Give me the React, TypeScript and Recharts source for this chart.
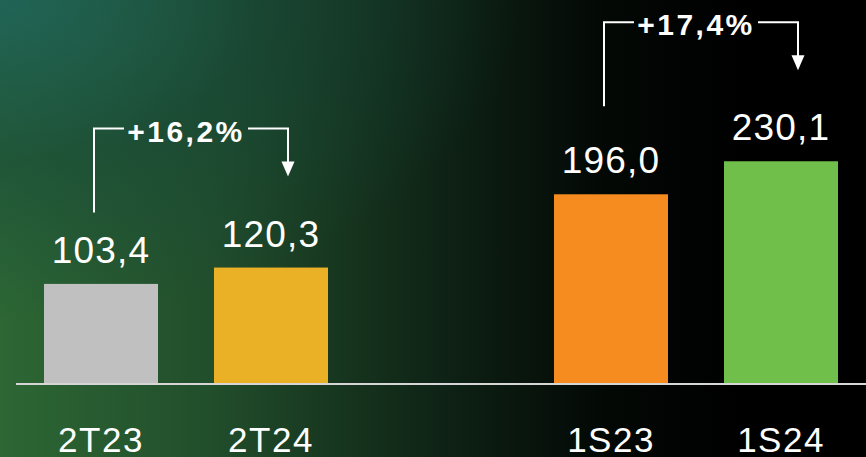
import React from "react";
import { BarChart, Bar, XAxis, YAxis } from "recharts";

const categories = ["2T23", "2T24", "", "1S23", "1S24"];
const values: (number | null)[] = [103.4, 120.3, null, 196.0, 230.1];
const barColors = ["#c0c0c0", "#eab126", "transparent", "#f68b20", "#70bf4b"];
const growthLabels = ["+16,2%", "+17,4%"];
const pairStarts = [0, 3];

const W = 866;
const H = 457;
const MARGIN = { top: 142, right: 0, bottom: 43, left: 16 };
const STEP = (W - MARGIN.left - MARGIN.right) / categories.length;
const FONT = "'Liberation Sans', Arial, sans-serif";

const data = categories.map((name, i) => ({ name, value: values[i] }));

const fmt = (v: number) => v.toFixed(1).replace(".", ",");

function BarShape(props: any) {
  const { x, y, width, height, payload } = props;
  // null entries are skipped, so find the category by name
  const i = categories.indexOf(payload?.name);
  const v = values[i];
  if (i < 0 || v == null) return null;
  const cx = x + width / 2;
  const parts: React.ReactNode[] = [
    <rect key="r" x={x} y={y} width={width} height={height} fill={barColors[i]} />,
    <text
      key="t"
      x={cx}
      y={y - 21}
      textAnchor="middle"
      fill="#fff"
      fontSize={37}
      letterSpacing={1.2}
      fontFamily={FONT}
    >
      {fmt(v)}
    </text>,
  ];

  const p = pairStarts.indexOf(i);
  const next = values[i + 1];
  if (p >= 0 && next != null) {
    // bracket from this bar to the next one
    const baseline = y + height;
    const pxPerUnit = height / v;
    const cx2 = cx + STEP;
    const top2 = baseline - next * pxPerUnit;
    const level = top2 - 139;
    const leftX = cx - 7;
    const rightX = cx2 + 17;
    const tip = top2 - 91;
    const mid = (cx + cx2) / 2;
    const half = 62;
    parts.push(
      <g key="b" stroke="#fff" strokeWidth={2} fill="none">
        <polyline points={`${leftX},${level + 84} ${leftX},${level} ${mid - half},${level}`} />
        <polyline points={`${mid + half},${level} ${rightX},${level} ${rightX},${tip - 14}`} />
      </g>,
      <polygon
        key="a"
        points={`${rightX - 6.5},${tip - 15} ${rightX + 6.5},${tip - 15} ${rightX},${tip}`}
        fill="#fff"
      />,
      <text
        key="g"
        x={mid}
        y={level + 13}
        textAnchor="middle"
        fill="#fff"
        fontSize={30}
        fontWeight="bold"
        letterSpacing={2.5}
        fontFamily={FONT}
      >
        {growthLabels[p]}
      </text>
    );
  }
  return <g>{parts}</g>;
}

function Tick(props: any) {
  const { x, y, payload } = props;
  return (
    <text
      x={x}
      y={y + 68}
      textAnchor="middle"
      fill="#fff"
      fontSize={35}
      letterSpacing={1.5}
      fontFamily={FONT}
    >
      {payload.value}
    </text>
  );
}

export default function App() {
  return (
    <div
      style={{
        position: "absolute",
        left: 0,
        top: 0,
        width: W,
        height: H,
        overflow: "hidden",
        background:
          "radial-gradient(ellipse 60% 70% at 0% 0%, rgba(32,100,88,0.95) 0%, rgba(20,70,60,0.5) 50%, rgba(0,0,0,0) 100%), linear-gradient(90deg, #2d6734 0%, #214d2b 25%, #0f2416 50%, #030805 70%, #000 85%)",
      }}
    >
      <BarChart width={W} height={H} data={data} margin={MARGIN}>
        <XAxis
          dataKey="name"
          height={30}
          tickSize={0}
          tickMargin={0}
          tickLine={false}
          axisLine={{ stroke: "#d6d6d6", strokeWidth: 2 }}
          tick={<Tick />}
          interval={0}
        />
        <YAxis hide domain={[0, 250]} />
        <Bar dataKey="value" barSize={114} shape={<BarShape />} isAnimationActive={false} />
      </BarChart>
    </div>
  );
}
